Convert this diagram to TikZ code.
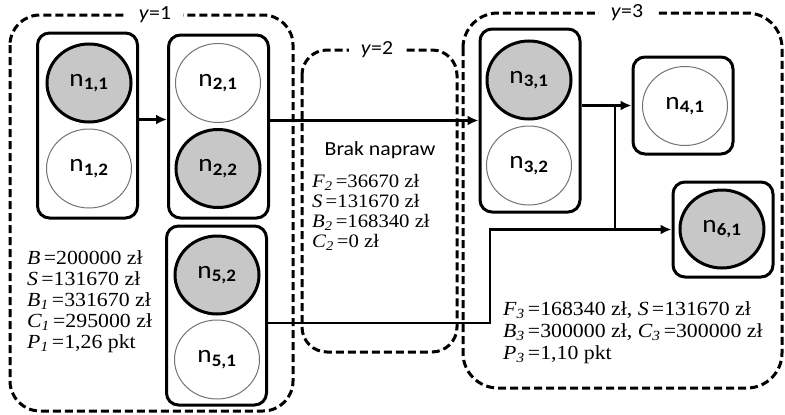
\documentclass[tikz,border=0pt]{standalone}
\usepackage{fontspec}
\setmainfont[FakeStretch=1.09]{Liberation Serif}
\newfontfamily\calib[FakeStretch=1.09]{Carlito}
\usetikzlibrary{positioning, arrows.meta, shapes.geometric}

\newcommand{\nlab}[1]{n\textsubscript{\textbf{#1}}}

\begin{document}
\begin{tikzpicture}[x=1pt, y=-1pt,
		stage/.style={draw, line width=3pt, dash pattern=on 8pt off 4pt},
		tag/.style={fill=white, inner xsep=12pt, inner ysep=2pt, font=\calib\fontsize{20}{20}\selectfont},
		block/.style={draw, line width=3pt, rounded corners=12pt, minimum width=100pt},
		full/.style={ellipse, draw, line width=3pt, fill=black!22, minimum width=84pt, minimum height=78pt, inner sep=0pt, font=\calib\fontsize{25}{25}\selectfont},
		empty/.style={ellipse, draw=black!55, line width=1pt, minimum width=85pt, minimum height=79pt, inner sep=0pt, font=\calib\fontsize{25}{25}\selectfont},
		link/.style={line width=2.4pt, -{Latex[length=11pt,width=10pt]}}]
				\useasboundingbox (0,0) rectangle (785,415);
				% groups
				\draw[stage, rounded corners=30pt] (10,15) rectangle (293,411);
				\draw[stage, rounded corners=25pt] (302,50) rectangle (457,352);
				\draw[stage, rounded corners=35pt] (463,13) rectangle (782,388);
				\node[tag] (y1) at (155,15) {\textit{y}=1};
				\node[tag] (y2) at (377,50) {\textit{y}=2};
				\node[tag] (y3) at (627,13) {\textit{y}=3};
				% blocks
				\node[block, minimum height=185pt] (b1) at (87.5,125.5) {};
				\node[block, minimum height=183pt] (b2) at (218.5,126.5) {};
				\node[block, minimum height=179pt] (b5) at (216.5,315.5) {};
				\node[block, minimum height=183pt] (b3) at (530,120.5) {};
				\node[block, minimum height=97pt] (b4) at (683,105.5) {};
				\node[block, minimum height=95pt] (b6) at (723,229.5) {};
				% states
				\node[full] (n11) at (89,83) {\nlab{1,1}};
				\node[empty, below=5pt of n11] (n12) {\nlab{1,2}};
				\node[empty] (n21) at (218,83) {\nlab{2,1}};
				\node[full, below=5pt of n21] (n22) {\nlab{2,2}};
				\node[full] (n52) at (217,275) {\nlab{5,2}};
				\node[empty, below=4pt of n52] (n51) {\nlab{5,1}};
				\node[full] (n31) at (529,80) {\nlab{3,1}};
				\node[empty, below=5pt of n31] (n32) {\nlab{3,2}};
				\node[empty] (n41) at (685,106) {\nlab{4,1}};
				\node[full] (n61) at (722,229) {\nlab{6,1}};
				% values
				\node[anchor=west, align=left, inner sep=0pt, font=\fontsize{20}{21}\selectfont] (v1) at (27,302)
						{\textit{B}\,=200000 zł\\ \textit{S}\,=131670 zł\\ \textit{B\textsubscript{1}}\,=331670 zł\\ \textit{C\textsubscript{1}}\,=295000 zł\\ \textit{P\textsubscript{1}}\,=1,26 pkt};
				\node[font=\calib\fontsize{20}{20}\selectfont] (v2) at (380,150) {Brak napraw};
				\node[anchor=west, align=left, inner sep=0pt, font=\fontsize{19}{20}\selectfont] (v2b) at (312,212)
						{\textit{F\textsubscript{2}}\,=36670 zł\\ \textit{S}\,=131670 zł\\ \textit{B\textsubscript{2}}\,=168340 zł\\ \textit{C\textsubscript{2}}\,=0 zł};
				\node[anchor=west, align=left, inner sep=0pt, font=\fontsize{20}{22}\selectfont] (v3) at (503,333)
						{\textit{F\textsubscript{3}}\,=168340 zł, \textit{S}\,=131670 zł\\ \textit{B\textsubscript{3}}\,=300000 zł, \textit{C\textsubscript{3}}\,=300000 zł\\ \textit{P\textsubscript{3}}\,=1,10 pkt};
				% connectors
				\coordinate (split) at (615,107);
				\coordinate (turn) at (490,323);
				\draw[link] ([yshift=6pt]b1.east) -- ([yshift=6pt]b1.east -| b2.west);
				\draw[link] (b2.east |- b3.west) -- (b3.west);
				\draw[link] (b3.east |- b4.west) -- (b4.west);
				\draw[line width=2.4pt] (split |- b4.west) -- (split |- b6.west);
				\draw[link] (b5.east |- turn) -- (turn) |- (b6.west);
			\end{tikzpicture}
\end{document}
